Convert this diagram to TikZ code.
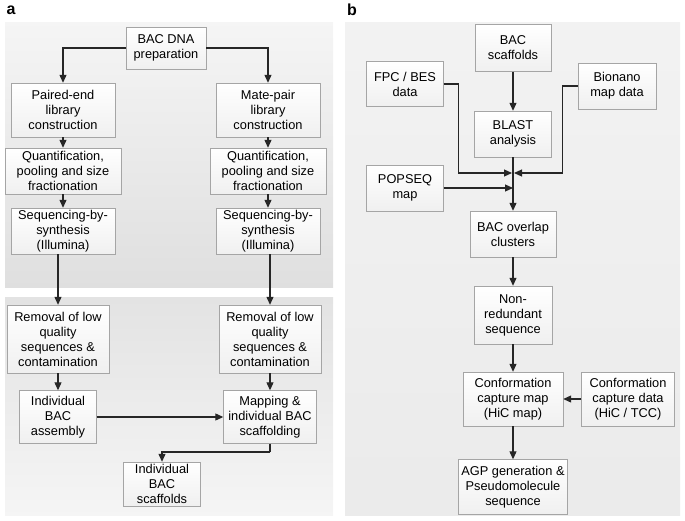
\documentclass[tikz,border=0pt]{standalone}
\usepackage{fontspec}
\setmainfont{Liberation Sans}
\usetikzlibrary{arrows.meta,positioning,calc}
\definecolor{panel}{RGB}{222,222,222}
\definecolor{boxline}{RGB}{165,165,165}

\begin{document}
\begin{tikzpicture}[
    x=1pt, y=-1pt,
    stage/.style={draw=boxline, top color=white, bottom color=gray!12, align=center,
        font=\fontsize{12.8}{15}\selectfont, inner sep=1pt, minimum height=46pt},
    arrow/.style={-{Triangle[length=8pt,width=7pt]}, line width=1.1pt, black!85},
    line/.style={line width=1.1pt, black!85},
    tag/.style={font=\bfseries\fontsize{16}{16}\selectfont}
]
    \useasboundingbox (0,0) rectangle (685,520);

    % Panels
    \fill[top color=gray!8, bottom color=gray!25] (5,22) rectangle (333,287);
    \fill[top color=gray!22, bottom color=gray!8] (5,297) rectangle (333,515);
    \fill[top color=gray!10, bottom color=gray!16] (345,22) rectangle (680,515);
    \node[tag] (taga) at (11,10) {a};
    \node[tag] (tagb) at (352,10) {b};

    % Panel a, library preparation
    \node[stage, minimum width=80pt, minimum height=42pt] (dna) at (166,48) {BAC DNA\\preparation};
    \node[stage, minimum width=104pt, minimum height=54pt] (pe) at (63,110) {Paired-end\\library\\construction};
    \node[stage, minimum width=104pt, minimum height=54pt] (mp) at (268,110) {Mate-pair\\library\\construction};
    \node[stage, minimum width=116pt] (quantl) at (63,171) {Quantification,\\pooling and size\\fractionation};
    \node[stage, minimum width=116pt] (quantr) at (268,171) {Quantification,\\pooling and size\\fractionation};
    \node[stage, minimum width=104pt] (seql) at (63,231) {Sequencing-by-\\synthesis\\(Illumina)};
    \node[stage, minimum width=104pt] (seqr) at (268,231) {Sequencing-by-\\synthesis\\(Illumina)};

    % Panel a, assembly
    \node[stage, minimum width=102pt, minimum height=68pt] (reml) at (58,339) {Removal of low\\quality\\sequences \&\\contamination};
    \node[stage, minimum width=102pt, minimum height=68pt] (remr) at (270,339) {Removal of low\\quality\\sequences \&\\contamination};
    \node[stage, minimum width=77pt, minimum height=53pt] (asm) at (58,417) {Individual\\BAC\\assembly};
    \node[stage, minimum width=93pt, minimum height=53pt] (map) at (270,417) {Mapping \&\\individual BAC\\scaffolding};
    \node[stage, minimum width=77pt, minimum height=44pt] (scafa) at (162,484) {Individual\\BAC\\scaffolds};
    \coordinate (bend) at (270,452);

    % Panel b
    \node[stage, minimum width=76pt, minimum height=47pt] (scafb) at (513,48) {BAC\\scaffolds};
    \node[stage, minimum width=77pt, minimum height=45pt] (fpc) at (405,84) {FPC / BES\\data};
    \node[stage, minimum width=78pt, minimum height=46pt] (bio) at (617,86) {Bionano\\map data};
    \node[stage, minimum width=77pt, minimum height=46pt] (blast) at (513,134) {BLAST\\analysis};
    \node[stage, minimum width=77pt, minimum height=46pt] (pop) at (405,188) {POPSEQ\\map};
    \node[stage, minimum width=86pt, minimum height=46pt] (ovl) at (513,234) {BAC overlap\\clusters};
    \node[stage, minimum width=78pt, minimum height=58pt] (nr) at (513,315) {Non-\\redundant\\sequence};
    \node[stage, minimum width=100pt, minimum height=54pt] (hic) at (513,399) {Conformation\\capture map\\(HiC map)};
    \node[stage, minimum width=93pt, minimum height=54pt] (hicd) at (628,399) {Conformation\\capture data\\(HiC / TCC)};
    \node[stage, minimum width=109pt, minimum height=55pt] (agp) at (513,487) {AGP generation \&\\Pseudomolecule\\sequence};
    \coordinate (hub) at (513,173);

    % Connections, panel a
    \draw[arrow] (dna.west) -| (pe.north);
    \draw[arrow] (dna.east) -| (mp.north);
    \draw[arrow] (pe) -- (quantl);
    \draw[arrow] (mp) -- (quantr);
    \draw[arrow] (quantl) -- (seql);
    \draw[arrow] (quantr) -- (seqr);
    \draw[arrow] (seql.south -| reml) -- (reml.north);
    \draw[arrow] (seqr.south -| remr) -- (remr.north);
    \draw[arrow] (reml) -- (asm);
    \draw[arrow] (remr) -- (map);
    \draw[arrow] (asm) -- (map);
    \draw[line] (map.south) -- (bend);
    \draw[arrow] (bend) -| (scafa.north);

    % Connections, panel b
    \draw[arrow] (scafb) -- (blast);
    \draw[line] (blast.south) -- (hub);
    \draw[arrow] (fpc.east) -- ++(15,0) |- ([xshift=-1pt]hub);
    \draw[arrow] (bio.west) -- ++(-15,0) |- ([xshift=1pt]hub);
    \draw[arrow] (pop.east) -- (pop.east -| hub);
    \draw[arrow] (hub) -- (ovl);
    \draw[arrow] (ovl) -- (nr);
    \draw[arrow] (nr) -- (hic);
    \draw[arrow] (hicd) -- (hic);
    \draw[arrow] (hic) -- (agp);
\end{tikzpicture}
\end{document}
